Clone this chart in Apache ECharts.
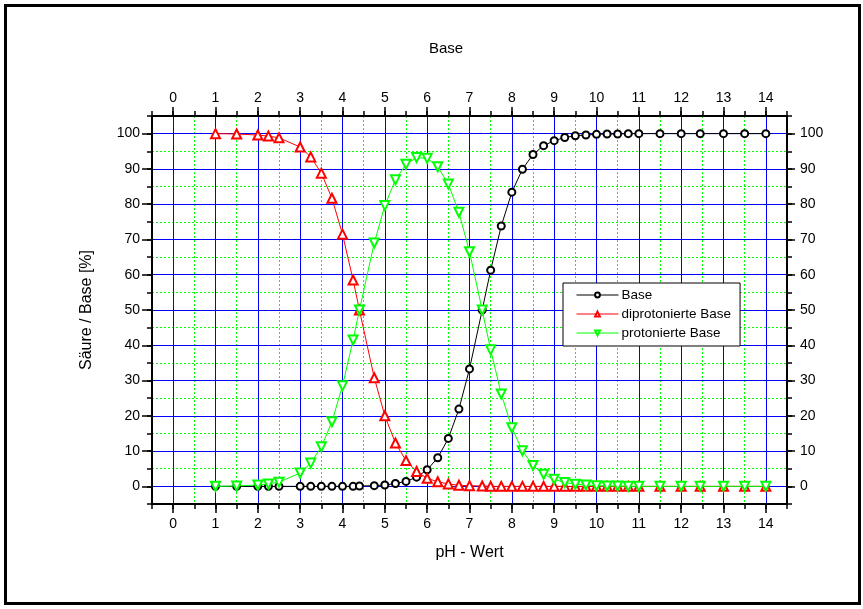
<!DOCTYPE html>
<html lang="de">
<head>
  <meta charset="UTF-8">
  <title>Base</title>
  <script src="https://cdn.jsdelivr.net/npm/echarts@6/dist/echarts.min.js"></script>
  <style>
    html, body { margin: 0; padding: 0; background: #fff; }
  </style>
</head>
<body>
  <div id="main" style="width: 863px;height:609px;"></div>
  <script>
    // pH-Werte (x) und Anteile in %
    var ph = [1, 1.5, 2, 2.25, 2.5, 3, 3.25, 3.5, 3.75, 4, 4.25, 4.4, 4.75, 5, 5.25, 5.5, 5.75, 6, 6.25, 6.5, 6.75, 7, 7.3, 7.5, 7.75, 8, 8.25, 8.5, 8.75, 9, 9.25, 9.5, 9.75, 10, 10.25, 10.5, 10.75, 11, 11.5, 12, 12.45, 13, 13.5, 14];
    var base = [0, 0, 0, 0, 0, 0, 0, 0, 0, 0, 0, 0.1, 0.2, 0.4, 0.8, 1.4, 2.6, 4.7, 8.1, 13.6, 21.9, 33.3, 50, 61.3, 73.8, 83.4, 89.9, 94.1, 96.6, 98.0, 98.9, 99.4, 99.6, 99.8, 99.9, 99.9, 100, 100, 100, 100, 100, 100, 100, 100];
    var diprot = [100, 99.9, 99.6, 99.3, 98.8, 96.2, 93.4, 88.8, 81.7, 71.5, 58.5, 50, 30.8, 20.0, 12.3, 7.3, 4.2, 2.3, 1.3, 0.7, 0.3, 0.2, 0.1, 0, 0, 0, 0, 0, 0, 0, 0, 0, 0, 0, 0, 0, 0, 0, 0, 0, 0, 0, 0, 0];
    var prot = [0, 0.1, 0.4, 0.7, 1.2, 3.8, 6.6, 11.2, 18.3, 28.5, 41.5, 50, 69.0, 79.6, 86.9, 91.3, 93.2, 93.0, 90.6, 85.7, 77.7, 66.5, 50, 38.7, 26.2, 16.6, 10.1, 5.9, 3.4, 2.0, 1.1, 0.6, 0.4, 0.2, 0.1, 0.1, 0, 0, 0, 0, 0, 0, 0, 0];
    var seriesNames = ['Base', 'diprotonierte Base', 'protonierte Base'];

    var myChart = echarts.init(document.getElementById('main'));

    // Plotbereich (Pixel) und Achsenbereiche
    var L = 152, R = 787, T = 116, B = 504;
    var xMin = -0.5, xMax = 14.5, yMin = -5, yMax = 105;
    function xPx(v) { return L + (v - xMin) / (xMax - xMin) * (R - L); }
    function yPx(v) { return B - (v - yMin) / (yMax - yMin) * (B - T); }

    var font = 'Liberation Sans, Arial, sans-serif';
    var blue = '#0000ff', green = '#00ff00';

    function pairs(ys) { return ph.map(function (x, i) { return [x, ys[i]]; }); }
    function hidden(g) { return { type: 'value', gridIndex: g, show: false, min: 0, max: 1 }; }

    // Rahmenachsen (Gitter 0): Striche alle 0,5 bzw. 5
    function frameAxis(pos, min, max, step) {
      return {
        type: 'value', gridIndex: 0, position: pos, min: min, max: max, interval: step, z: 3,
        axisLine: { onZero: false, lineStyle: { color: '#000', width: 2 } },
        axisTick: { length: 5, lineStyle: { color: '#000', width: 1.5 } },
        axisLabel: { show: false }, splitLine: { show: false }
      };
    }
    // beschriftete Achsen mit langen Strichen, blaue Gitterlinien
    function labelAxis(g, pos, min, max, step, tick, margin, split) {
      return {
        type: 'value', gridIndex: g, position: pos, min: min, max: max, interval: step, z: 1,
        axisLine: { show: false, onZero: false },
        axisTick: { length: tick, lineStyle: { color: '#000', width: 1.5 } },
        axisLabel: { margin: margin, fontSize: 14, color: '#000', fontFamily: font },
        splitLine: { show: split, lineStyle: { color: blue, width: 1 } }
      };
    }
    // gruene gepunktete Zwischenlinien
    function dotAxis(g, min, max, step) {
      return {
        type: 'value', gridIndex: g, min: min, max: max, interval: step, z: 0,
        axisLine: { show: false, onZero: false }, axisTick: { show: false }, axisLabel: { show: false },
        splitLine: { show: true, lineStyle: { color: green, width: 1, type: [2, 2] } }
      };
    }

    var xBottom = frameAxis('bottom', xMin, xMax, 0.5);
    xBottom.name = 'pH - Wert';
    xBottom.nameLocation = 'middle';
    xBottom.nameGap = 41;
    xBottom.nameTextStyle = { fontSize: 16, color: '#000', fontFamily: font };

    var yLeft = frameAxis('left', yMin, yMax, 5);
    yLeft.name = 'Säure / Base [%]';
    yLeft.nameLocation = 'middle';
    yLeft.nameGap = 57;
    yLeft.nameTextStyle = { fontSize: 16, color: '#000', fontFamily: font };

    var option = {
      animation: false,
      backgroundColor: '#fff',
      textStyle: { fontFamily: font },
      title: {
        text: 'Base', left: 441, top: 36, textAlign: 'center',
        textStyle: { fontSize: 15, fontWeight: 'normal', color: '#000', fontFamily: font }
      },
      graphic: [{
        type: 'rect', shape: { x: 5.5, y: 5.5, width: 854, height: 598 },
        style: { fill: null, stroke: '#000', lineWidth: 3 }, z: 100
      }],
      legend: {
        orient: 'vertical', left: 563, top: 283,
        padding: [5, 9, 6, 13], itemGap: 5, itemWidth: 42, itemHeight: 6,
        backgroundColor: '#fff', borderColor: '#000', borderWidth: 1,
        lineStyle: { width: 1 }, itemStyle: { borderWidth: 1 },
        textStyle: { fontSize: 13.5, color: '#000', fontFamily: font, lineHeight: 14, padding: [0, 0, 0, -2] },
        data: seriesNames, z: 10
      },
      grid: [
        { left: L, top: T, width: R - L, height: B - T },
        { left: xPx(0), top: T, width: xPx(14) - xPx(0), height: B - T },
        { left: L, top: yPx(100), width: R - L, height: yPx(0) - yPx(100) },
        { left: xPx(0.5), top: T, width: xPx(13.5) - xPx(0.5), height: B - T },
        { left: L, top: yPx(95), width: R - L, height: yPx(5) - yPx(95) }
      ],
      xAxis: [
        xBottom,
        frameAxis('top', xMin, xMax, 0.5),
        labelAxis(1, 'bottom', 0, 14, 1, 9, 13, true),
        labelAxis(1, 'top', 0, 14, 1, 9, 11, false),
        hidden(2),
        dotAxis(3, 0.5, 13.5, 1),
        hidden(4)
      ],
      yAxis: [
        yLeft,
        frameAxis('right', yMin, yMax, 5),
        hidden(1),
        labelAxis(2, 'left', 0, 100, 10, 10, 12, true),
        labelAxis(2, 'right', 0, 100, 10, 8, 13, false),
        hidden(3),
        dotAxis(4, 5, 95, 10)
      ],
      series: [
        {
          name: seriesNames[0], type: 'line', xAxisIndex: 0, yAxisIndex: 0, z: 4,
          data: pairs(base), symbol: 'emptyCircle', symbolSize: 7,
          lineStyle: { color: '#000', width: 1 }, itemStyle: { color: '#000', borderWidth: 1 }
        },
        {
          name: seriesNames[1], type: 'line', xAxisIndex: 0, yAxisIndex: 0, z: 5,
          data: pairs(diprot), symbol: 'emptyTriangle', symbolSize: 9,
          lineStyle: { color: '#ff0000', width: 1 }, itemStyle: { color: '#ff0000', borderWidth: 1.2 }
        },
        {
          name: seriesNames[2], type: 'line', xAxisIndex: 0, yAxisIndex: 0, z: 6,
          data: pairs(prot), symbol: 'emptyTriangle', symbolRotate: 180, symbolSize: 9,
          lineStyle: { color: '#00ff00', width: 1 }, itemStyle: { color: '#00ff00', borderWidth: 1.2 }
        }
      ]
    };

    myChart.setOption(option);
  </script>
</body>
</html>
